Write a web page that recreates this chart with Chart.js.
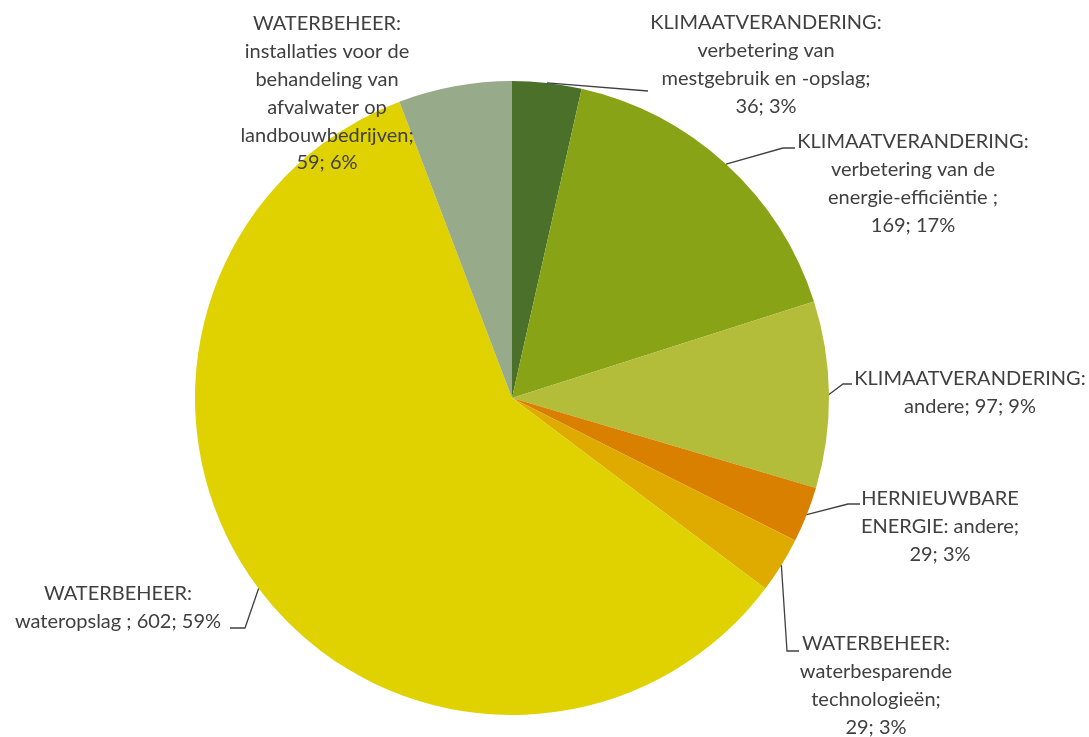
<!DOCTYPE html>
<html>
<head>
<meta charset="utf-8">
<script src="https://cdn.jsdelivr.net/npm/chart.js@4"></script>
<style>
  body { margin: 0; background: #fff; }
</style>
</head>
<body>
<canvas id="Piechart" width="1089" height="737"></canvas>
<script>

const categories = [
  ['KLIMAATVERANDERING:', 'verbetering van', 'mestgebruik en -opslag'],
  ['KLIMAATVERANDERING:', 'verbetering van de', 'energie-efficiëntie '],
  ['KLIMAATVERANDERING:', 'andere'],
  ['HERNIEUWBARE', 'ENERGIE: andere'],
  ['WATERBEHEER:', 'waterbesparende', 'technologieën'],
  ['WATERBEHEER:', 'wateropslag '],
  ['WATERBEHEER:', 'installaties voor de', 'behandeling van', 'afvalwater op', 'landbouwbedrijven']
];
const values = [36, 169, 97, 29, 29, 602, 59];
const percents = [3, 17, 9, 3, 3, 59, 6];

const colors = ['#4a7029', '#88a315', '#b3bd3a', '#d98000', '#e0ab00', '#e0d200', '#97aa8a'];

// where each label goes: block centre x, first line y, value on its own line or not
const labelPos = [
  { x: 766, y: 23, ownLine: true },
  { x: 913, y: 142, ownLine: true },
  { x: 970, y: 379, ownLine: false },
  { x: 940, y: 499, ownLine: true },
  { x: 876, y: 644, ownLine: true },
  { x: 118, y: 594, ownLine: false },
  { x: 327, y: 24, ownLine: true }
];
// leader line points after the point on the arc
const leaders = [
  [[648, 91]],
  [[783, 148], [795, 148]],
  [[843, 384], [852, 384]],
  [[848, 504], [860, 504]],
  [[787, 651], [799, 651]],
  [[245, 628], [230, 628]],
  []
];

const lineH = 27.8;

const pieLabels = {
  id: 'pieLabels',
  afterDraw(chart) {
    const ctx = chart.ctx;
    const arcs = chart.getDatasetMeta(0).data;
    ctx.save();
    ctx.strokeStyle = '#404040';
    ctx.lineWidth = 1.3;
    arcs.forEach((arc, i) => {
      if (!leaders[i].length) return;
      const mid = (arc.startAngle + arc.endAngle) / 2;
      ctx.beginPath();
      ctx.moveTo(arc.x + arc.outerRadius * Math.cos(mid), arc.y + arc.outerRadius * Math.sin(mid));
      leaders[i].forEach(p => ctx.lineTo(p[0], p[1]));
      ctx.stroke();
    });

    ctx.fillStyle = '#404040';
    ctx.font = '20px Lato';
    ctx.textAlign = 'center';
    ctx.textBaseline = 'middle';
    categories.forEach((cat, i) => {
      const lines = cat.slice();
      const valueText = values[i] + '; ' + percents[i] + '%';
      lines[lines.length - 1] += ';';
      if (labelPos[i].ownLine) lines.push(valueText);
      else lines[lines.length - 1] += ' ' + valueText;
      lines.forEach((t, j) => ctx.fillText(t, labelPos[i].x, labelPos[i].y + j * lineH));
    });
    ctx.restore();
  }
};

new Chart(document.getElementById('Piechart'), {
  type: 'pie',
  data: {
    labels: categories,
    datasets: [{
      data: values,
      backgroundColor: colors,
      borderWidth: 0
    }]
  },
  options: {
    responsive: false,
    animation: false,
    layout: { padding: { left: 195, right: 260, top: 81, bottom: 22 } },
    plugins: {
      legend: { display: false },
      tooltip: { enabled: false }
    }
  },
  plugins: [pieLabels]
});
</script>
</body>
</html>
